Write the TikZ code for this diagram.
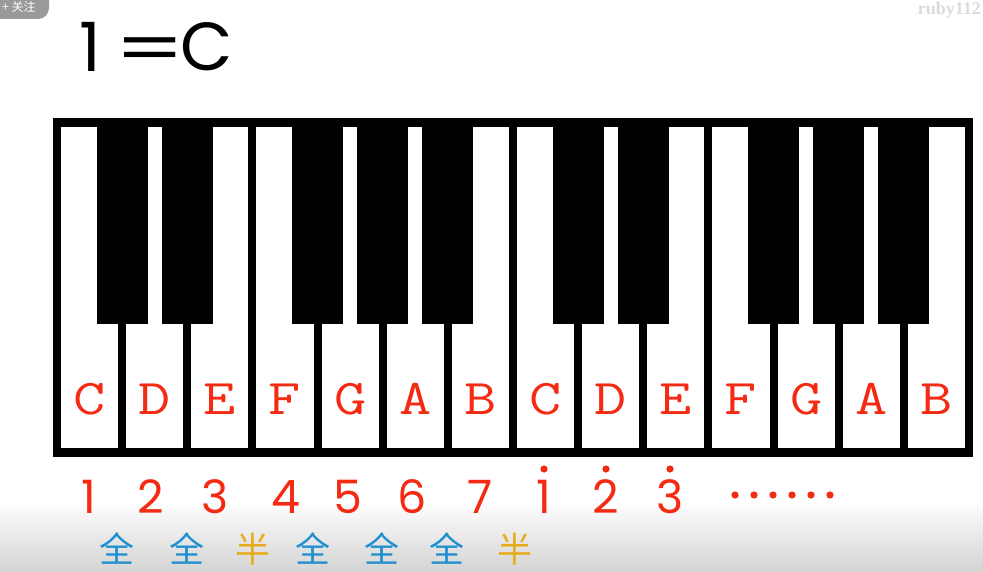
\documentclass[tikz,border=0pt]{standalone}
\usepackage{fontspec}
\newfontfamily\numfont{Poppins}
\newfontfamily\cjk{Noto Sans CJK SC}
\newfontfamily\wmfont{Liberation Serif}
\definecolor{notered}{HTML}{F42A12}
\definecolor{quanblue}{HTML}{1E8FCF}
\definecolor{bangold}{HTML}{E6AE1E}
\tikzset{
  whitekey/.style={fill=white},
  blackkey/.style={fill=black},
  keyname/.style={text=notered, font=\ttfamily\fontsize{50}{50}\selectfont, inner sep=0pt, xscale=1.25},
  degree/.style={text=notered, font=\numfont\fontsize{46}{46}\selectfont, inner sep=0pt},
  hidot/.style={fill=notered},
  quan/.style={text=quanblue, font=\cjk\fontsize{35}{35}\selectfont, inner sep=0pt},
  ban/.style={text=bangold, font=\cjk\fontsize{35}{35}\selectfont, inner sep=0pt},
  title/.style={text=black, font=\numfont\fontsize{68}{68}\selectfont, inner sep=0pt}
}
\begin{document}
\begin{tikzpicture}[x=1pt,y=-1pt]
\useasboundingbox (0,0) rectangle (983,572);
\fill[white] (0,0) rectangle (983,572);
% bottom video shading
\shade[top color=white, bottom color=black!17] (0,500) rectangle (983,572);
% overlay button and watermark
\fill[black!40, rounded corners=11pt] (-15,-15) rectangle (49,19);
\node[text=white, font=\cjk\fontsize{12}{12}\selectfont, anchor=west, inner sep=0pt] (follow) at (2,7) {+ 关注};
\node[text=black!14, font=\wmfont\bfseries\fontsize{18}{18}\selectfont, anchor=east, inner sep=0pt] (wm) at (981,10) {ruby112};
% title
\node[title] (one) at (90,47) {1};
\node[title, xscale=1.45] (eq) at (150,55) {=};
\node[title] (cc) at (207,47) {C};
% keyboard frame
\fill[black] (53,118) rectangle (973,457);
% white keys
\foreach \i in {0,...,13} {
  \fill[whitekey] ({61+65.14*\i},127) rectangle ++(57.15,321);
}
% black keys
\foreach \i in {0,1,3,4,5,7,8,10,11,12} {
  \fill[blackkey] ({122.15+65.14*\i-25.5},118) rectangle ++(51,206);
}
% key names
\foreach \n [count=\k from 0] in {C,D,E,F,G,A,B,C,D,E,F,G,A,B} {
  \node[keyname] (key\k) at ({89.6+65.14*\k},399) {\n};
}
% degrees
\node[degree] (d1) at (89,497) {1};
\node[degree] (d2) at (151,497) {2};
\node[degree] (d3) at (215,497) {3};
\node[degree] (d4) at (286,497) {4};
\node[degree] (d5) at (348,497) {5};
\node[degree] (d6) at (412,497) {6};
\node[degree] (d7) at (480,497) {7};
\node[degree] (d8) at (544,497) {1};
\node[degree] (d9) at (606,497) {2};
\node[degree] (d10) at (670,497) {3};
\foreach \x in {544,606,670} { \fill[hidot] (\x,469) circle (3.6); }
\foreach \j in {0,...,5} { \fill[hidot] ({735+19*\j},495) circle (3.6); }
% steps
\node[quan] (s1) at (117,549) {全};
\node[quan] (s2) at (187,549) {全};
\node[ban]  (s3) at (253,549) {半};
\node[quan] (s4) at (313,549) {全};
\node[quan] (s5) at (382,549) {全};
\node[quan] (s6) at (447,549) {全};
\node[ban]  (s7) at (515,549) {半};
\end{tikzpicture}
\end{document}
